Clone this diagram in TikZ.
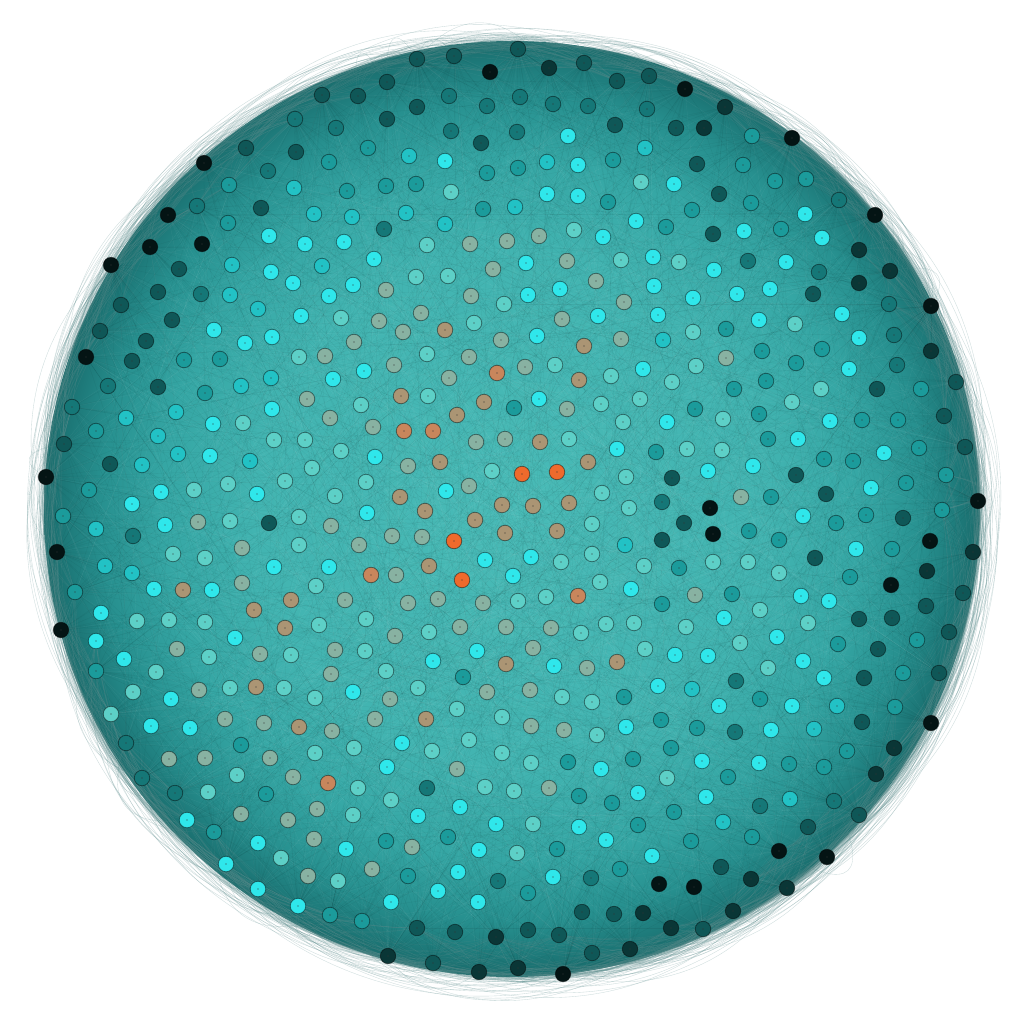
\documentclass[tikz,border=0pt]{standalone}
\usetikzlibrary{calc}
\definecolor{cK}{HTML}{041414}
\definecolor{cJ}{HTML}{0a3636}
\definecolor{cD}{HTML}{0f5757}
\definecolor{cE}{HTML}{157777}
\definecolor{cM}{HTML}{1b9b9b}
\definecolor{cN}{HTML}{22c2c5}
\definecolor{cC}{HTML}{2fe7eb}
\definecolor{cL}{HTML}{5dd0c7}
\definecolor{cG}{HTML}{88b2a2}
\definecolor{cT}{HTML}{ab9574}
\definecolor{cU}{HTML}{c8865c}
\definecolor{cO}{HTML}{ee6a2c}
\definecolor{bgA}{HTML}{49bbb7}
\definecolor{bgB}{HTML}{42b4b1}
\definecolor{bgC}{HTML}{35a6a4}
\definecolor{bgD}{HTML}{27908f}
\definecolor{bgE}{HTML}{1d7878}
\definecolor{bgF}{HTML}{1a6c6c}
\definecolor{fringecol}{HTML}{5a8c8c}
\pgfdeclareradialshading{diskshade}{\pgfpoint{0bp}{0bp}}{color(0bp)=(bgA); color(13.75bp)=(bgB); color(18.75bp)=(bgC); color(22bp)=(bgD); color(24bp)=(bgE); color(25bp)=(bgF); color(50bp)=(bgF)}
\pgfdeclarelayer{back}
\pgfdeclarelayer{edges}
\pgfsetlayers{back,edges,main}
\newcount\outcnt
\tikzset{
  nd/.style={circle, minimum size=15.5pt, inner sep=0pt, draw=black, draw opacity=0.45, line width=0.8pt,
    path picture={\fill[black!80] (path picture bounding box.center) circle (0.7pt);}},
  fringe/.style={draw=fringecol, opacity=0.3, line width=0.35pt},
  dedge/.style={draw=black, opacity=0.06, line width=0.3pt},
  ledge/.style={draw=white, opacity=0.06, line width=0.3pt}
}
\begin{document}
\begin{tikzpicture}[x=1pt,y=-1pt]
\useasboundingbox (0,0) rectangle (1024,1024);
\begin{pgfonlayer}{back}
\fill[white] (0,0) rectangle (1024,1024);
\shade[shading=diskshade] (512,509) circle (468);
\end{pgfonlayer}
\global\outcnt=0
\foreach \x/\y/\k [count=\i] in {
322/95/D, 358/96/D, 295/119/E, 336/128/E, 246/148/D, 296/152/D, 204/163/K, 268/171/E, 329/162/M, 229/185/M,
294/188/N, 347/191/M, 197/206/E, 261/208/D, 168/215/K, 314/214/N, 352/217/N, 228/223/M, 202/244/K, 150/247/K,
269/236/C, 305/244/C, 344/242/C, 111/265/K, 179/269/D, 232/265/N, 271/272/C, 322/266/N, 293/283/C, 353/285/C,
158/292/D, 201/294/E, 230/295/N, 329/296/C, 121/305/D, 258/309/N, 301/316/C, 341/318/L, 172/320/D, 100/331/D,
214/330/C, 146/341/D, 245/343/C, 272/337/C, 354/342/G, 86/357/K, 132/361/D, 184/360/M, 220/359/M, 299/357/L, 325/356/G,
417/59/D, 454/56/D, 518/49/D, 490/72/K, 549/68/J, 584/63/D, 387/82/D, 617/81/D, 649/76/D, 685/89/K,
449/96/E, 417/107/D, 487/106/E, 520/97/E, 553/104/E, 588/106/E, 647/109/E, 387/119/D, 615/125/D, 676/128/D,
451/131/E, 517/132/E, 481/143/D, 568/136/C, 368/148/M, 409/156/N, 445/161/C, 547/162/N, 578/165/C, 613/160/M,
645/148/N, 487/173/M, 518/168/M, 386/186/M, 416/184/M, 451/192/L, 547/194/C, 578/196/C, 608/202/M, 641/182/L,
674/184/C, 406/213/N, 483/209/M, 515/207/N, 384/229/E, 445/224/N, 636/221/C, 666/227/M, 427/245/L, 470/244/G,
507/241/G, 539/236/G, 574/230/L, 603/237/C, 374/259/C, 493/269/G, 526/263/C, 567/261/G, 621/260/L, 653/257/C,
679/262/L, 416/277/L, 448/276/L, 386/290/G, 471/296/G, 504/304/L, 528/295/C, 560/289/C, 596/281/G, 624/302/G,
654/286/C, 421/313/G, 379/321/G, 474/323/L, 562/319/G, 598/316/C, 658/315/C, 403/332/G, 445/330/T, 501/340/G,
537/336/C, 584/346/T, 621/339/G, 663/340/N, 427/354/L, 469/357/G,
725/107/J, 704/128/J, 752/136/M, 792/138/K, 697/164/D, 743/165/M, 775/181/M, 806/179/M, 719/194/D, 751/203/M,
839/200/E, 692/210/M, 805/214/C, 875/215/K, 713/234/D, 744/231/C, 781/229/M, 822/238/C, 859/250/J, 714/270/C,
748/261/E, 786/262/C, 819/272/E, 890/271/J, 859/283/J, 693/298/C, 737/294/C, 770/289/C, 813/294/D, 889/304/E,
931/306/K, 842/314/C, 693/332/L, 726/329/M, 759/320/C, 795/324/L, 859/338/C, 894/335/E, 931/351/J, 726/358/G,
762/351/M, 822/349/M, 796/363/M,
108/386/E, 158/387/D, 205/393/M, 241/386/N, 271/378/N, 333/379/C, 72/407/E, 126/418/N, 176/412/N, 213/424/C,
243/423/L, 272/409/C, 307/399/G, 96/431/M, 158/436/N, 178/454/N, 210/456/C, 250/461/N, 274/440/L, 305/440/L,
330/418/G, 64/444/D, 110/464/D, 142/465/N, 341/451/L, 46/477/K, 89/490/M, 161/492/C, 194/490/L, 228/484/L,
257/494/C, 285/481/L, 312/468/L, 335/496/L, 132/504/C, 63/516/M, 96/529/N, 133/536/E, 165/525/C, 198/522/G,
230/521/L, 269/523/D, 299/517/L, 331/526/G, 57/552/K, 173/554/L, 205/558/L, 242/548/G, 299/545/L, 359/545/G,
105/566/N, 132/573/N, 274/567/C, 329/567/C, 242/583/G, 75/592/M, 154/589/C, 183/590/T, 212/590/C, 254/610/T,
291/600/T, 316/586/L, 345/600/G, 101/613/C, 137/621/L, 169/620/L, 205/622/L, 285/628/T, 319/625/L, 61/630/K,
235/638/C, 177/649/G, 96/641/C, 209/657/L, 260/654/G, 291/655/L, 335/650/G, 124/659/C, 96/671/M, 156/672/L, 331/674/G,
364/371/C, 394/365/G, 449/378/G, 497/373/U, 525/367/G, 555/365/L, 579/380/T, 611/376/L, 643/369/C, 672/382/L,
401/396/T, 428/396/L, 361/405/L, 484/402/T, 514/408/M, 539/399/C, 567/409/G, 601/404/L, 640/399/L, 457/415/T,
373/427/G, 404/431/U, 433/431/U, 623/422/L, 667/422/C, 476/442/G, 505/439/G, 540/442/T, 569/439/L, 375/457/C,
408/466/G, 440/462/T, 492/471/L, 522/474/O, 557/472/O, 588/462/T, 617/449/C, 656/452/M, 366/482/L, 446/491/C,
469/486/G, 626/477/L, 672/478/D, 400/497/T, 502/505/T, 533/506/T, 569/503/T, 602/493/L, 629/508/L, 662/502/E,
367/513/C, 425/511/T, 475/520/T, 592/524/L, 392/536/G, 422/537/G, 454/541/O, 505/533/T, 557/531/T, 625/545/N,
662/540/D, 531/557/C, 485/560/C, 561/562/L, 592/554/L, 644/566/L, 371/575/U, 396/575/G, 429/566/T, 462/580/O,
513/576/C, 600/582/L, 631/589/C, 679/568/M, 408/603/G, 438/599/G, 483/603/G, 518/601/L, 546/597/L, 578/596/U,
662/604/M, 366/619/L, 395/636/G, 429/632/L, 460/627/G, 506/627/G, 551/628/G, 581/633/L, 606/624/L, 634/623/L,
365/651/L, 433/661/C, 477/651/C, 533/648/G, 645/649/L, 675/655/C, 386/671/L, 463/677/M, 506/664/T, 554/666/C,
587/668/G, 617/662/T,
696/366/L, 849/369/C, 897/365/E, 734/389/M, 766/381/M, 821/389/L, 877/389/D, 921/389/M, 956/382/D, 695/409/M,
723/419/L, 759/414/M, 792/402/L, 830/421/C, 862/420/M, 898/420/M, 944/416/D, 687/449/L, 722/450/L, 768/439/M,
798/439/C, 824/459/M, 853/461/M, 884/453/C, 919/448/M, 965/447/D, 708/471/C, 753/466/C, 796/475/D, 871/488/C,
906/483/M, 946/475/M, 826/494/D, 741/497/G, 771/497/M, 710/508/K, 684/523/D, 803/516/C, 836/523/M, 866/515/M,
903/518/D, 942/510/M, 978/501/K, 713/534/K, 749/531/M, 779/540/M, 856/549/C, 892/549/M, 930/541/K, 815/558/D,
973/552/J, 713/562/L, 748/562/L, 779/573/L, 850/577/M, 891/585/K, 927/571/J, 695/595/G, 732/594/M, 801/596/C,
829/601/C, 926/606/D, 963/593/D, 724/618/C, 760/610/L, 859/619/D, 892/618/D, 686/627/L, 808/623/L, 949/632/D,
740/643/L, 777/637/C, 838/644/M, 917/640/M, 708/656/C, 803/661/C, 878/649/D, 768/668/L, 736/681/E, 824/678/C,
864/678/D, 903/673/M, 939/673/D,
133/692/L, 171/699/C, 199/690/G, 230/688/L, 256/687/T, 284/688/L, 315/698/L, 353/692/C, 111/714/L, 151/726/C,
190/728/C, 225/719/G, 264/723/G, 299/727/T, 332/731/G, 126/743/E, 241/745/M, 169/759/G, 205/758/G, 270/758/G,
315/753/L, 354/748/L, 142/778/E, 237/775/L, 293/777/G, 328/783/U, 358/788/L, 175/793/E, 208/792/L, 266/794/M,
241/814/G, 288/820/G, 317/809/G, 353/815/L, 187/820/C, 214/832/M, 258/843/C, 314/839/G, 346/849/C, 281/858/L,
226/864/C, 308/876/G, 338/881/L, 258/889/C, 298/906/C, 330/915/M, 362/921/M,
418/688/L, 390/699/G, 487/692/G, 530/690/G, 562/697/L, 592/702/L, 624/697/M, 658/686/C, 375/719/G, 426/719/T,
457/709/L, 502/717/L, 531/726/G, 564/730/G, 597/735/L, 626/727/C, 661/720/M, 402/743/C, 432/751/L, 469/740/L,
502/753/L, 531/763/L, 568/762/M, 601/769/C, 633/759/M, 671/748/M, 387/767/C, 457/769/G, 427/788/E, 485/787/L,
514/791/L, 549/788/G, 579/796/M, 612/803/M, 638/793/C, 667/778/L, 391/800/L, 460/807/C, 418/816/C, 496/824/C,
533/824/L, 579/827/C, 638/825/M, 674/812/M, 386/841/M, 412/847/G, 448/837/M, 479/850/C, 517/853/L, 557/849/M,
606/840/C, 652/856/C, 372/869/G, 408/876/M, 458/872/C, 553/877/C, 620/869/M, 498/881/E, 528/893/M, 591/878/E,
659/884/K, 391/902/C, 438/891/C, 478/902/C, 417/928/D, 455/932/D, 496/937/J, 528/930/D, 559/935/D, 582/912/D,
614/914/D, 643/913/J, 671/928/J, 388/956/J, 433/963/D, 479/972/J, 518/968/J, 563/974/K, 592/953/D, 630/949/J,
692/689/N, 760/699/M, 719/706/C, 792/706/C, 837/706/N, 895/707/M, 931/723/K, 862/722/D, 697/728/M, 735/732/E,
771/730/C, 814/729/N, 894/748/J, 847/751/M, 702/761/C, 759/763/C, 789/764/M, 824/767/M, 876/774/J, 728/777/M,
706/797/C, 760/806/E, 790/799/N, 834/801/E, 859/815/D, 723/822/N, 808/827/D, 752/837/M, 691/841/M, 779/851/K,
827/857/K, 721/867/D, 751/879/J, 787/888/J, 694/887/K, 733/911/J, 703/929/D} {
  \node[nd, fill=c\k] (n\i) at (\x,\y) {};
  \xdef\ntot{\i}
  \pgfmathsetmacro\rr{100*sqrt(((\x-512)/100)^2+((\y-509)/100)^2)}
  \ifdim\rr pt>428pt
    \global\advance\outcnt by 1
    \pgfmathsetmacro\th{atan2(\y-509,\x-512)}
    \expandafter\xdef\csname oid\the\outcnt\endcsname{\i}
    \expandafter\xdef\csname oth\the\outcnt\endcsname{\th}
    \expandafter\xdef\csname orr\the\outcnt\endcsname{\rr}
  \fi
}
\pgfmathsetseed{7}
\begin{pgfonlayer}{edges}
% curved edges between outer nodes, bulging just beyond the ring
\foreach \t in {1,...,1500} {
  \pgfmathrandominteger{\ua}{1}{\the\outcnt}
  \pgfmathrandominteger{\ub}{1}{\the\outcnt}
  \edef\ia{\csname oid\ua\endcsname}
  \edef\ib{\csname oid\ub\endcsname}
  \edef\ta{\csname oth\ua\endcsname}
  \edef\tb{\csname oth\ub\endcsname}
  \edef\ra{\csname orr\ua\endcsname}
  \edef\rb{\csname orr\ub\endcsname}
  \pgfmathsetmacro\dd{mod(\tb-\ta+540,360)-180}
  \pgfmathtruncatemacro\ok{((abs(\dd)<85)&&(abs(\dd)>3))?1:0}
  \ifnum\ok=1
    \pgfmathsetmacro\Rm{(\ra+\rb)/2}
    \pgfmathsetmacro\hh{467+28*rnd*rnd-\Rm}
    \pgfmathsetmacro\rhoo{(8*(\Rm+\hh)-2*\Rm*cos(\dd/2))/(6*cos(\dd/6))}
    \pgfmathsetmacro\ca{\ta+\dd/3}
    \pgfmathsetmacro\cb{\tb-\dd/3}
    \draw[fringe] (n\ia.center) .. controls ([shift={(512,509)}]\ca:\rhoo) and ([shift={(512,509)}]\cb:\rhoo) .. (n\ib.center);
  \fi
}
% dark edges from outer nodes into the disk
\foreach \t in {1,...,1200} {
  \pgfmathrandominteger{\ua}{1}{\the\outcnt}
  \edef\ia{\csname oid\ua\endcsname}
  \pgfmathrandominteger{\ib}{1}{\ntot}
  \draw[dedge] (n\ia.center) -- (n\ib.center);
}
% light edges fanning from outer nodes
\foreach \t in {1,...,500} {
  \pgfmathrandominteger{\ua}{1}{\the\outcnt}
  \edef\ia{\csname oid\ua\endcsname}
  \pgfmathrandominteger{\ib}{1}{\ntot}
  \draw[ledge] (n\ia.center) -- (n\ib.center);
}
\end{pgfonlayer}
\end{tikzpicture}
\end{document}
